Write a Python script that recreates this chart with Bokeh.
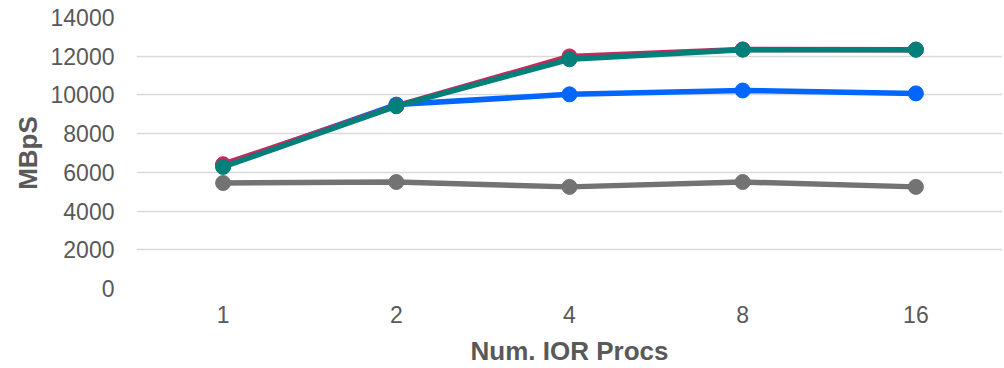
from bokeh.plotting import figure
from bokeh.models import FactorRange, Range1d, ColumnDataSource
from bokeh.embed import file_html
from bokeh.resources import INLINE

procs = ["1", "2", "4", "8", "16"]
series_gray = [5450, 5500, 5250, 5500, 5250]
series_blue = [6350, 9500, 10030, 10230, 10080]
series_magenta = [6420, 9430, 11990, 12350, 12340]
series_teal = [6280, 9420, 11840, 12340, 12340]
y_ticks = [0, 2000, 4000, 6000, 8000, 10000, 12000, 14000]

colors = ["#737373", "#0066FF", "#C8285A", "#00807A"]
series = [series_gray, series_blue, series_magenta, series_teal]

p = figure(width=1004, height=368, x_range=FactorRange(*procs, range_padding=0),
           y_range=Range1d(0, 14000), output_backend="svg", toolbar_location=None,
           min_border_left=136, min_border_right=2, min_border_top=17, min_border_bottom=79)
p.outline_line_color = None

for vals, c in zip(series, colors):
    src = ColumnDataSource(dict(x=procs, y=vals))
    p.line("x", "y", source=src, line_color=c, line_width=5.5)
    p.scatter("x", "y", source=src, size=15, fill_color=c, line_color=c)

p.yaxis.ticker = y_ticks
p.yaxis.axis_line_color = None
p.yaxis.major_tick_line_color = None
p.yaxis.minor_tick_line_color = None
p.xaxis.axis_line_color = None
p.xaxis.major_tick_line_color = None
p.xgrid.grid_line_color = None
p.ygrid.grid_line_color = "#D9D9D9"
p.ygrid.grid_line_width = 1.5

for ax in (p.xaxis[0], p.yaxis[0]):
    ax.major_label_text_font = "Liberation Sans"
    ax.major_label_text_font_size = "23px"
    ax.major_label_text_color = "#595959"
    ax.axis_label_text_font = "Liberation Sans"
    ax.axis_label_text_font_size = "26px"
    ax.axis_label_text_font_style = "bold"
    ax.axis_label_text_color = "#595959"

p.xaxis.axis_label = "Num. IOR Procs"
p.yaxis.axis_label = "MBpS"
p.yaxis.major_label_standoff = 16
p.xaxis.major_label_standoff = 11
p.xaxis.axis_label_standoff = 10
p.yaxis.axis_label_standoff = 5

open("out.html", "w").write(file_html(p, INLINE))
